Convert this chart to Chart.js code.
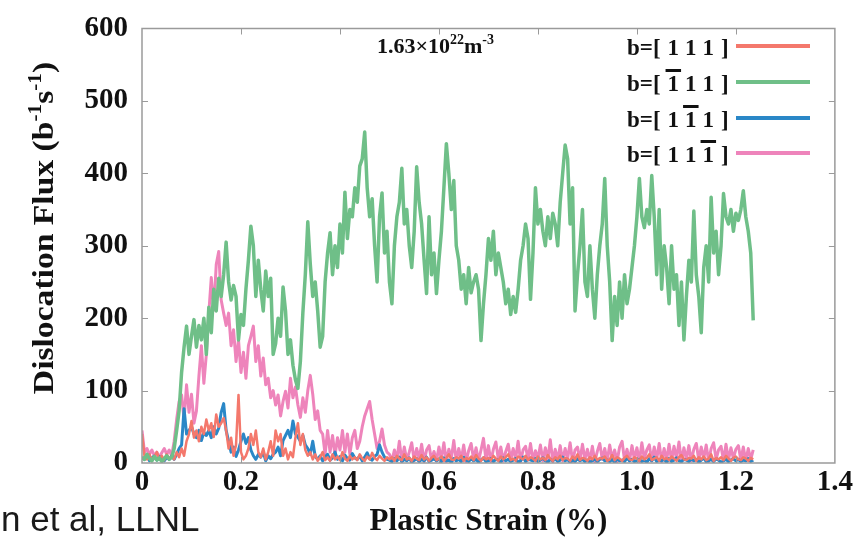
<!DOCTYPE html>
<html lang="en">
<head>
<meta charset="UTF-8">
<title>Dislocation Flux vs Plastic Strain</title>
<script src="https://cdn.jsdelivr.net/npm/chart.js"></script>
<style>
    body {
        margin: 0;
        background: #ffffff;
    }
    #wrap {
        width: 858px;
        height: 544px;
    }
</style>
</head>
<body>
<div id="wrap">
    <canvas id="fluxChart" width="858" height="544"></canvas>
</div>
<script>
// strain sampling (%), one value every STRAIN_STEP
const STRAIN_STEP = 0.005;

const xTicks = [0, 0.2, 0.4, 0.6, 0.8, 1.0, 1.2, 1.4];
const yTicks = [0, 100, 200, 300, 400, 500, 600];

// b=[1 1 1]
const flux111 = [
    40, 10, 5, 12, 3, 8, 15, 5, 10, 4, 12, 6, 9,
    5, 15, 8, 20, 10, 30,
    40, 58, 35, 45, 30, 50,
    40, 60, 45, 55, 36, 67, 50, 55,
    62,
    45, 20, 35, 10, 25,
    94,
    15, 5, 10, 20,
    40, 25, 45, 15,
    8, 20, 5, 15, 30, 10,
    45, 30, 40,
    10, 20, 5, 15, 8,
    35, 55, 25, 40, 18,
    10, 15, 5, 12, 3, 8, 15, 4,
    8, 3, 12, 5, 9, 4, 15, 6, 3, 10, 5, 8, 4, 12, 6, 3, 9, 5, 14, 7, 4, 10, 6, 3, 8,
    5, 8, 3, 10, 6, 4, 12, 5, 7, 3, 9, 6, 4, 11, 5, 8, 3, 7, 10, 4,
    6, 9, 3, 7, 12, 5, 4, 8, 6, 10, 3, 7, 5, 9, 4, 11, 6, 3, 8, 5,
    7, 4, 10, 6, 3, 9, 5, 8, 12, 4, 6, 3, 9, 7, 5, 10, 4, 8, 6, 3,
    9, 5, 7, 4, 11, 6, 3, 8, 5, 10, 4, 7, 6, 3, 9, 5, 12, 4, 7, 6,
    3, 8, 5, 10, 4, 7, 6, 9, 3, 5, 11, 4, 8, 6, 3, 7, 10, 5, 4, 8,
    6, 3, 9, 5, 7, 12, 4, 6, 8, 3, 10, 5, 7, 4, 9, 6, 3, 8, 11, 5,
    4, 7, 6, 10, 3, 8, 5, 9, 4, 6, 12, 3, 7, 5, 8, 4, 10, 6, 3, 7,
    9, 5, 4, 8, 6, 3, 7, 5
];

// b=[-1 1 1]
const fluxM111 = [
    8, 5, 12, 6, 3, 9, 4, 7, 2, 6, 10, 5, 8,
    20, 45, 72,
    125, 160, 189, 150,
    175, 198, 160, 190, 170,
    200,
    150, 215, 180,
    240, 210, 255,
    230, 260, 305,
    250, 225, 245, 230,
    170, 205,
    190, 240, 280, 327, 300,
    230, 280,
    240, 210, 265, 230, 255,
    150, 165,
    200, 175, 243, 210,
    150, 170, 135,
    115, 103, 140,
    207, 260, 333,
    275, 230, 250, 210,
    160, 175, 250,
    290, 318, 260, 300, 270,
    330, 290, 374, 310, 350,
    340, 380, 360, 410,
    420, 457,
    380, 340, 365,
    300, 250, 340, 373, 290, 320,
    250, 220,
    300, 340, 360, 407,
    330, 350, 300, 270, 320,
    409, 360, 330, 280,
    234, 340,
    260, 290, 234, 280,
    320, 380,
    441,
    400, 350, 390, 300,
    280, 240, 260, 220, 270, 235, 250, 260, 240,
    169,
    220, 260, 310, 280, 320, 260, 290, 270,
    250, 220, 240, 205, 230, 208, 240,
    280, 300,
    330, 310,
    226, 290,
    380, 330,
    350, 320, 300, 340, 310, 345, 330, 300, 360,
    400, 439,
    420, 330, 380,
    210,
    260, 300, 350, 250, 230, 300,
    240, 200,
    260, 300, 330,
    393,
    300, 250,
    169,
    230, 190, 250, 200, 260, 220, 240, 270,
    300, 340,
    393,
    340, 325, 350, 330, 397, 340,
    260, 350, 240, 300,
    270, 220,
    300, 240, 260, 190, 250, 170, 230,
    280, 250,
    348,
    260, 230, 180,
    270, 300, 250,
    367,
    290, 320, 260, 300,
    372,
    340, 330, 350, 320, 345, 335, 350,
    376,
    340, 320,
    290,
    197
];

// b=[1 -1 1]
const flux1M11 = [
    8, 5, 12, 3, 7, 10, 4, 9, 6, 3, 8, 5, 10,
    5, 12, 20, 25, 75,
    40, 45, 50,
    40, 35, 45, 31, 42, 38, 45, 35, 50, 40, 48,
    70, 82,
    45, 30,
    15, 22, 9, 18,
    30, 40, 27, 35,
    18, 10, 5, 12, 8, 15, 3, 10, 6, 12,
    15, 22, 10,
    31, 38, 45, 35, 58, 40, 36, 30, 38, 25,
    20, 12, 30, 9,
    5, 10, 3, 8, 12, 4, 7, 15, 5, 9, 3, 11, 6, 4, 13, 7, 5, 10, 3, 8, 14, 6, 4, 9, 12, 25, 15, 8, 5,
    4, 2, 6, 3, 8, 2, 5, 3, 7, 1, 4, 6, 2, 5, 3, 8, 2, 4, 6, 3,
    5, 2, 7, 3, 4, 1, 6, 3, 5, 2, 8, 4, 2, 6, 3, 5, 1, 4, 7, 2,
    3, 6, 2, 5, 4, 1, 7, 3, 5, 2, 4, 6, 1, 3, 8, 2, 5, 4, 3, 6,
    2, 4, 7, 3, 1, 5, 3, 6, 2, 4, 8, 3, 5, 1, 4, 2, 6, 3, 5, 2,
    4, 1, 3, 6, 2, 5, 7, 3, 4, 2, 5, 1, 6, 3, 4, 2, 7, 3, 5, 2,
    3, 5, 2, 4, 1, 6, 3, 8, 2, 4, 3, 5, 1, 6, 2, 4, 7, 3, 2, 5,
    4, 2, 6, 3, 5, 1, 4, 7, 2, 3, 5, 2, 6, 4, 1, 3, 5, 2, 4, 6,
    3, 5, 2, 4, 3, 6, 2, 4
];

// b=[1 1 -1]
const flux11M1 = [
    45, 15, 20, 12, 18, 10, 15, 8, 14, 20, 12, 18, 10,
    30, 60, 85, 94, 60,
    108, 70, 95, 55, 72,
    120, 162, 110, 150,
    207, 256, 211,
    274, 292,
    225, 207,
    190, 207, 162,
    184, 140, 170,
    125, 153, 117,
    162, 175, 189,
    140, 162, 120, 145, 108,
    117, 90, 100,
    80, 94, 65, 85,
    99, 76,
    117, 90, 105, 80,
    63, 90, 70,
    100, 121, 95,
    60, 72, 45,
    40, 12, 45, 15, 38, 10, 35, 18,
    45, 15, 40, 12, 35, 45, 20, 30,
    50, 65, 75, 85, 60,
    40, 20, 30,
    47, 25, 15,
    12, 3, 18, 5, 30, 2, 22, 4, 15, 28, 3, 20, 6, 26, 2, 18, 24, 4, 16, 3,
    22, 5, 28, 2, 19, 6, 31, 3, 20, 4, 25, 2, 17, 27, 5, 21, 3, 18, 34, 4,
    24, 2, 19, 29, 5, 22, 3, 16, 26, 4, 20, 6, 30, 2, 18, 23, 5, 27, 3, 17,
    6, 25, 3, 21, 5, 32, 2, 19, 4, 24, 3, 20, 6, 28, 2, 18, 22, 4, 26, 5,
    19, 3, 23, 2, 16, 27, 5, 20, 3, 25, 6, 18, 2, 22, 30, 4, 19, 3, 24, 5,
    21, 2, 28, 6, 18, 25, 3, 22, 5, 27, 2, 20, 4, 26, 3, 23, 6, 29, 2, 21,
    5, 24, 3, 19, 27, 4, 22, 6, 25, 2, 20, 28, 5, 18, 23, 3, 26, 4, 21, 6,
    19, 24, 4, 22, 3, 20, 5, 18
];

const COLORS = {
    red: '#f4786c',
    green: '#6fbf88',
    blue: '#2a87c7',
    pink: '#ee84bb'
};

// legend rows: three Miller indices, index of the one carrying a bar (-1 = none)
const legendRows = [
    { idx: ['1', '1', '1'], bar: -1, color: COLORS.red },
    { idx: ['1', '1', '1'], bar: 0, color: COLORS.green },
    { idx: ['1', '1', '1'], bar: 1, color: COLORS.blue },
    { idx: ['1', '1', '1'], bar: 2, color: COLORS.pink }
];

function toPoints(values) {
    return values.map((v, i) => ({ x: i * STRAIN_STEP, y: v }));
}

const SERIF = '"Liberation Serif", "Times New Roman", serif';

// draws a run of [text, isSuperscript] pieces starting at x, returns end x
function drawRich(ctx, pieces, x, y, size, supSize, rise) {
    pieces.forEach(([t, sup]) => {
        ctx.font = 'bold ' + (sup ? supSize : size) + 'px ' + SERIF;
        ctx.fillText(t, x, sup ? y - rise : y);
        x += ctx.measureText(t).width;
    });
    return x;
}

function richWidth(ctx, pieces, size, supSize) {
    let w = 0;
    pieces.forEach(([t, sup]) => {
        ctx.font = 'bold ' + (sup ? supSize : size) + 'px ' + SERIF;
        w += ctx.measureText(t).width;
    });
    return w;
}

// frame, inward tick marks, y title, legend and density note
const decorPlugin = {
    id: 'decor',
    afterDatasetsDraw(chart) {
        const ctx = chart.ctx;
        const a = chart.chartArea;
        const xs = chart.scales.x;
        const ys = chart.scales.y;
        ctx.save();

        ctx.strokeStyle = '#9a9a9a';
        ctx.lineWidth = 1.5;
        ctx.strokeRect(a.left, a.top, a.right - a.left, a.bottom - a.top);

        ctx.beginPath();
        xTicks.slice(1, -1).forEach(v => {
            const px = Math.round(xs.getPixelForValue(v)) + 0.5;
            ctx.moveTo(px, a.top);
            ctx.lineTo(px, a.top + 6);
            ctx.moveTo(px, a.bottom);
            ctx.lineTo(px, a.bottom - 6);
        });
        yTicks.slice(1, -1).forEach(v => {
            const py = Math.round(ys.getPixelForValue(v)) + 0.5;
            ctx.moveTo(a.left, py);
            ctx.lineTo(a.left + 6, py);
            ctx.moveTo(a.right, py);
            ctx.lineTo(a.right - 6, py);
        });
        ctx.lineWidth = 1;
        ctx.stroke();

        ctx.fillStyle = '#111';
        ctx.textBaseline = 'alphabetic';

        // y axis title, stretched a little along its length
        const yTitle = [['Dislocation Flux (b', false], ['-1', true], ['s', false], ['-1', true], [')', false]];
        ctx.save();
        ctx.translate(53, 228);
        ctx.rotate(-Math.PI / 2);
        ctx.scale(1.12, 1);
        const tw = richWidth(ctx, yTitle, 30, 19);
        drawRich(ctx, yTitle, -tw / 2, 0, 30, 19, 12);
        ctx.restore();

        // density note
        drawRich(ctx, [['1.63\u00d710', false], ['22', true], ['m', false], ['-3', true]], 377, 53, 22, 14, 9);

        // legend
        const rowBase = [55, 91, 127, 162];
        legendRows.forEach((row, r) => {
            ctx.font = 'bold 23px ' + SERIF;
            let lx = 627;
            const by = rowBase[r];
            ctx.fillStyle = '#111';
            ctx.fillText('b=[', lx, by);
            lx += ctx.measureText('b=[').width + 7;
            row.idx.forEach((d, k) => {
                const w = ctx.measureText(d).width;
                ctx.fillText(d, lx, by);
                if (k === row.bar) {
                    ctx.fillRect(lx - 2, by - 22, w + 4, 3);
                }
                lx += w + 6;
            });
            ctx.fillText(']', lx + 1, by);

            ctx.strokeStyle = row.color;
            ctx.lineWidth = 4;
            ctx.beginPath();
            ctx.moveTo(736, by - 9);
            ctx.lineTo(810, by - 9);
            ctx.stroke();
        });

        // source credit
        ctx.fillStyle = '#1a1a1a';
        ctx.font = '35px "Liberation Sans", Arial, sans-serif';
        ctx.fillText('n et al, LLNL', 1, 531);

        ctx.restore();
    }
};

const ctx = document.getElementById('fluxChart');

new Chart(ctx, {
    type: 'line',
    data: {
        datasets: [
            { label: 'b=[-1 1 1]', data: toPoints(fluxM111), borderColor: COLORS.green, borderWidth: 3.5 },
            { label: 'b=[1 1 1]', data: toPoints(flux111), borderColor: COLORS.red, borderWidth: 2.5 },
            { label: 'b=[1 -1 1]', data: toPoints(flux1M11), borderColor: COLORS.blue, borderWidth: 3 },
            { label: 'b=[1 1 -1]', data: toPoints(flux11M1), borderColor: COLORS.pink, borderWidth: 3 }
        ]
    },
    options: {
        responsive: false,
        animation: false,
        layout: { padding: { left: 0, top: 19, right: 20, bottom: 0 } },
        elements: {
            point: { radius: 0 },
            line: { tension: 0, borderJoinStyle: 'round' }
        },
        plugins: {
            legend: { display: false },
            tooltip: { enabled: false }
        },
        scales: {
            x: {
                type: 'linear',
                min: 0,
                max: 1.4,
                afterFit: s => { s.height = 81; },
                afterBuildTicks: s => { s.ticks = xTicks.map(v => ({ value: v })); },
                grid: { display: false, drawTicks: false },
                border: { display: false },
                ticks: {
                    padding: 5,
                    color: '#111',
                    font: { family: SERIF, size: 29, weight: 'bold', lineHeight: 1 },
                    callback: v => (v === 0 ? '0' : v.toFixed(1))
                },
                title: {
                    display: true,
                    text: 'Plastic Strain (%)',
                    color: '#111',
                    font: { family: SERIF, size: 31, weight: 'bold', lineHeight: 1.2 },
                    padding: { top: 0, bottom: 3 }
                }
            },
            y: {
                min: 0,
                max: 600,
                afterFit: s => { s.width = 142; },
                afterBuildTicks: s => { s.ticks = yTicks.map(v => ({ value: v })); },
                grid: { display: false, drawTicks: false },
                border: { display: false },
                ticks: {
                    padding: 14,
                    color: '#111',
                    font: { family: SERIF, size: 29, weight: 'bold', lineHeight: 1 }
                },
                title: { display: false }
            }
        }
    },
    plugins: [decorPlugin]
});
</script>
</body>
</html>
